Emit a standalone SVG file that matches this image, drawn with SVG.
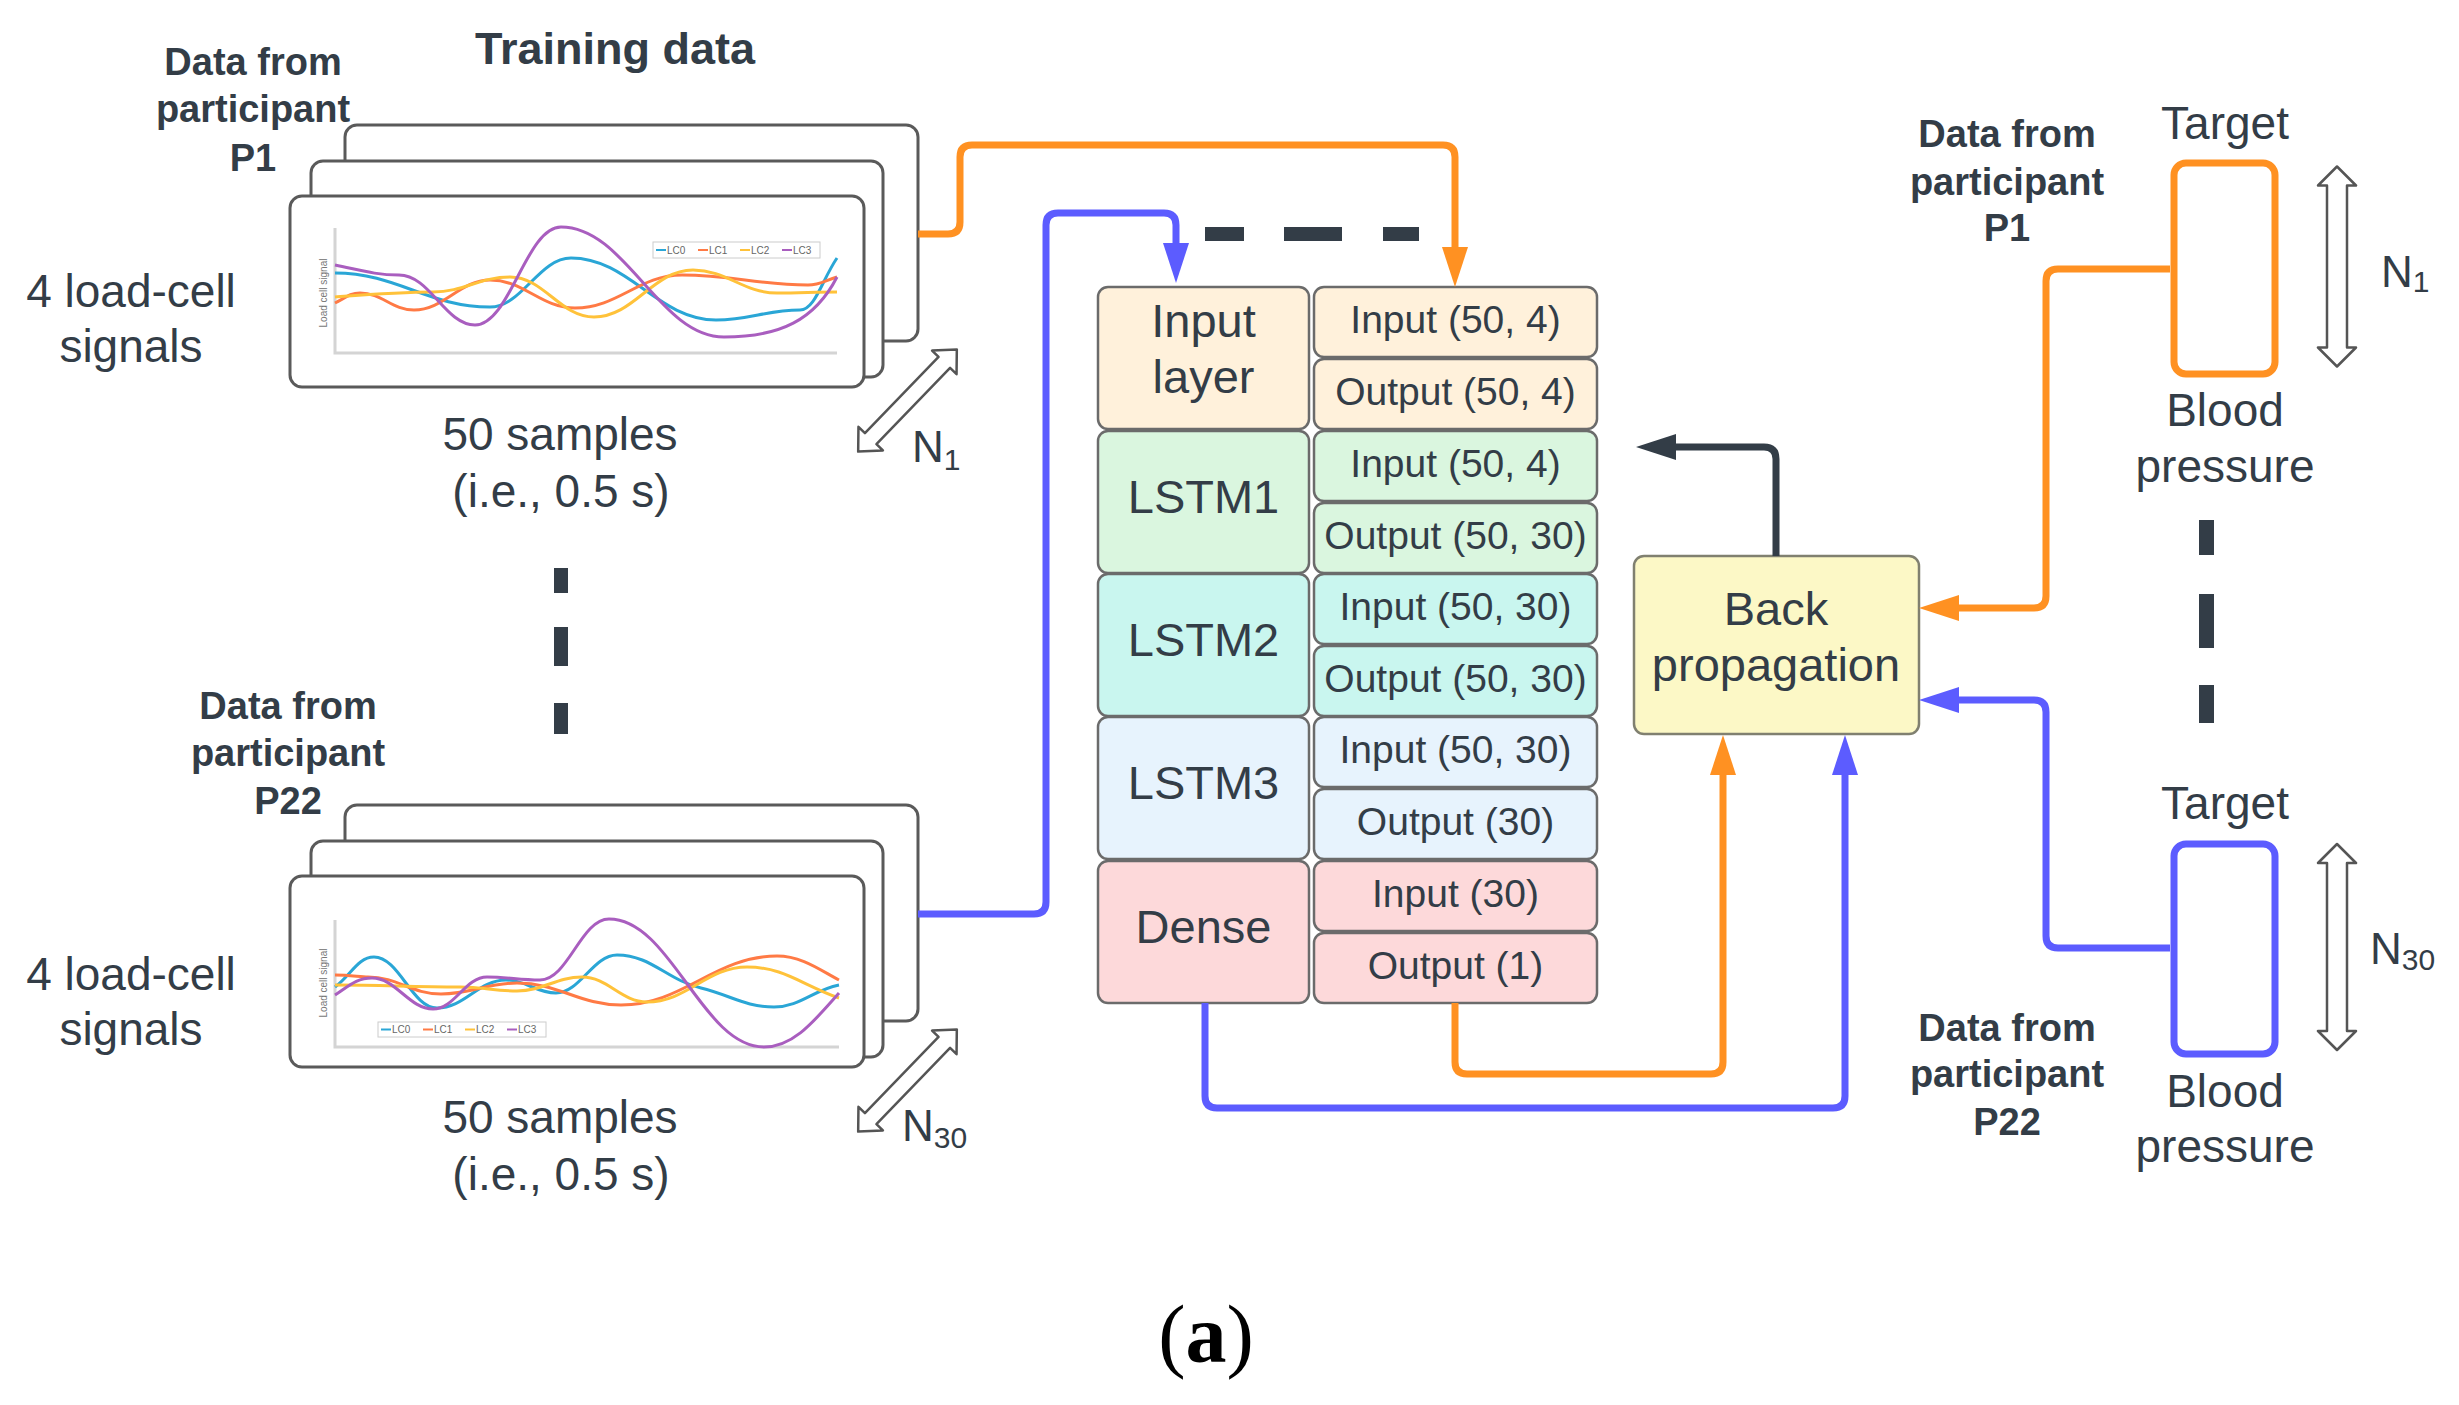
<svg xmlns="http://www.w3.org/2000/svg" width="2459" height="1405" viewBox="0 0 2459 1405">
<defs>
<style>
text{font-family:"Liberation Sans",Arial,sans-serif;fill:#333d47}
.lbl{font-size:46px;text-anchor:middle}
.bold{font-size:38px;font-weight:bold;text-anchor:middle}
.card{fill:#fff;stroke:#5a5a5a;stroke-width:3}
.axis{stroke:#d4d4d4;stroke-width:3;fill:none}
.crv{fill:none;stroke-width:3}
.lg{font-size:10px;fill:#666}
.ylab{font-size:10px;fill:#777;text-anchor:middle}
.cell{stroke:#6b6b6b;stroke-width:2.5}
.big{font-size:47px;text-anchor:middle}
.sm{font-size:39px;text-anchor:middle}
.con{fill:none;stroke-width:7}
.or{stroke:#ff9122}
.bl{stroke:#5c5cff}
.dk{stroke:#333d47}
.dash{fill:#333d47}
.dbl{fill:#fff;stroke:#555;stroke-width:2.5;stroke-linejoin:round}
.n{font-size:44px}
</style>
<marker id="ao" viewBox="0 0 40 26" refX="20" refY="13" markerWidth="40" markerHeight="26" markerUnits="userSpaceOnUse" orient="auto"><path d="M0,0 L40,13 L0,26 Z" fill="#ff9122"/></marker>
<marker id="ab" viewBox="0 0 40 26" refX="20" refY="13" markerWidth="40" markerHeight="26" markerUnits="userSpaceOnUse" orient="auto"><path d="M0,0 L40,13 L0,26 Z" fill="#5c5cff"/></marker>
<marker id="ad" viewBox="0 0 40 26" refX="20" refY="13" markerWidth="40" markerHeight="26" markerUnits="userSpaceOnUse" orient="auto"><path d="M0,0 L40,13 L0,26 Z" fill="#333d47"/></marker>
<g id="chartTopCurves">
<path class="crv" stroke="#2aa6d6" d="M335,273 C397,273 428,307 490,307 C522,307 539,258 571,258 C629,258 658,320 716,320 C750,320 766,310 800,310 C815,310 822,280 837,258"/>
<path class="crv" stroke="#ff7a45" d="M335,303 C345,298 350,293 360,293 C382,293 392,310 414,310 C444,310 460,280 490,280 C524,280 541,308 575,308 C618,308 639,275 682,275 C732,275 758,285 808,285 C820,285 826,280 837,277"/>
<path class="crv" stroke="#ffc23a" d="M335,297 C375,294 400,292 433,292 C464,292 479,277 510,277 C544,277 560,317 594,317 C634,317 653,270 693,270 C727,270 743,293 777,293 C800,293 815,292 837,292"/>
<path class="crv" stroke="#a95ebf" d="M335,265 C360,270 375,275 399,275 C430,275 445,325 475,325 C510,325 526,227 561,227 C626,227 659,337 724,337 C780,337 815,320 837,277"/>
</g>
</defs>
<rect width="2459" height="1405" fill="#fff"/>

<text x="615" y="64" font-size="45" font-weight="bold" text-anchor="middle">Training data</text>

<!-- Top-left data stack -->
<g id="stackP1">
<rect class="card" x="345" y="125" width="573" height="216" rx="12"/>
<rect class="card" x="311" y="161" width="572" height="216" rx="12"/>
<rect class="card" x="290" y="196" width="574" height="191" rx="12"/>
<path class="axis" d="M335,228 V353 H837"/>
<text class="ylab" transform="translate(327,293) rotate(-90)">Load cell signal</text>
<use href="#chartTopCurves"/>
<rect x="653" y="242" width="167" height="16" fill="#fff" stroke="#ccc" stroke-width="1"/>
<line x1="656" y1="250" x2="666" y2="250" stroke="#2aa6d6" stroke-width="2"/><text class="lg" x="667" y="254">LC0</text>
<line x1="698" y1="250" x2="708" y2="250" stroke="#ff7a45" stroke-width="2"/><text class="lg" x="709" y="254">LC1</text>
<line x1="740" y1="250" x2="750" y2="250" stroke="#ffc23a" stroke-width="2"/><text class="lg" x="751" y="254">LC2</text>
<line x1="782" y1="250" x2="792" y2="250" stroke="#a95ebf" stroke-width="2"/><text class="lg" x="793" y="254">LC3</text>
</g>
<g id="labelsP1">
<text class="bold" x="253" y="75">Data from</text>
<text class="bold" x="253" y="122">participant</text>
<text class="bold" x="253" y="171">P1</text>
<text class="lbl" x="131" y="307">4 load-cell</text>
<text class="lbl" x="131" y="362">signals</text>
<text class="lbl" x="560" y="450">50 samples</text>
<text class="lbl" x="561" y="507">(i.e., 0.5 s)</text>
<polygon class="dbl" transform="translate(907.5,400.5) rotate(44)" points="0,-71 17,-53 8,-53 8,53 17,53 0,71 -17,53 -8,53 -8,-53 -17,-53"/>
<text class="n" x="912" y="462">N<tspan font-size="30" dy="8">1</tspan></text>
</g>

<!-- left vertical dashes -->
<g id="dashLeft">
<rect class="dash" x="554" y="568" width="14" height="25"/>
<rect class="dash" x="554" y="627" width="14" height="39"/>
<rect class="dash" x="554" y="703" width="14" height="31"/>
</g>

<!-- Bottom-left data stack -->
<g id="stackP22">
<rect class="card" x="345" y="805" width="573" height="216" rx="12"/>
<rect class="card" x="311" y="841" width="572" height="216" rx="12"/>
<rect class="card" x="290" y="876" width="574" height="191" rx="12"/>
<path class="axis" d="M335,920 V1047 H839"/>
<text class="ylab" transform="translate(327,983) rotate(-90)">Load cell signal</text>
<path class="crv" stroke="#2aa6d6" d="M335,987 C351,975 358,957 374,957 C399,957 412,1008 437,1008 C465,1008 478,980 506,980 C526,980 536,993 556,993 C580,993 593,955 617,955 C651,955 667,980 701,988 C730,995 745,1007 774,1007 C800,1007 813,990 839,985"/>
<path class="crv" stroke="#ff7a45" d="M335,975 C350,975 360,977 368,977 C398,977 411,994 441,994 C471,994 487,983 517,983 C559,983 579,1005 621,1005 C683,1005 715,956 777,956 C802,956 820,970 839,980"/>
<path class="crv" stroke="#ffc23a" d="M335,985 C385,985 410,987 460,987 C483,987 494,991 517,991 C543,991 556,977 582,977 C608,977 621,1002 647,1002 C687,1002 707,967 747,967 C784,967 802,985 839,998"/>
<path class="crv" stroke="#a95ebf" d="M335,995 C350,985 357,978 372,978 C396,978 409,1009 433,1009 C455,1009 465,977 487,977 C508,977 519,980 540,980 C568,980 581,919 609,919 C671,919 702,1047 764,1047 C794,1047 815,1020 839,993"/>
<rect x="378" y="1022" width="168" height="15" fill="#fff" stroke="#ccc" stroke-width="1"/>
<line x1="381" y1="1029.5" x2="391" y2="1029.5" stroke="#2aa6d6" stroke-width="2"/><text class="lg" x="392" y="1033">LC0</text>
<line x1="423" y1="1029.5" x2="433" y2="1029.5" stroke="#ff7a45" stroke-width="2"/><text class="lg" x="434" y="1033">LC1</text>
<line x1="465" y1="1029.5" x2="475" y2="1029.5" stroke="#ffc23a" stroke-width="2"/><text class="lg" x="476" y="1033">LC2</text>
<line x1="507" y1="1029.5" x2="517" y2="1029.5" stroke="#a95ebf" stroke-width="2"/><text class="lg" x="518" y="1033">LC3</text>
</g>
<g id="labelsP22">
<text class="bold" x="288" y="719">Data from</text>
<text class="bold" x="288" y="766">participant</text>
<text class="bold" x="288" y="814">P22</text>
<text class="lbl" x="131" y="990">4 load-cell</text>
<text class="lbl" x="131" y="1045">signals</text>
<text class="lbl" x="560" y="1133">50 samples</text>
<text class="lbl" x="561" y="1190">(i.e., 0.5 s)</text>
<polygon class="dbl" transform="translate(907.5,1080.5) rotate(44)" points="0,-71 17,-53 8,-53 8,53 17,53 0,71 -17,53 -8,53 -8,-53 -17,-53"/>
<text class="n" x="902" y="1141">N<tspan font-size="30" dy="7">30</tspan></text>
</g>

<!-- top dashes -->
<g id="dashTop">
<rect class="dash" x="1205" y="227" width="39" height="14"/>
<rect class="dash" x="1284" y="227" width="58" height="14"/>
<rect class="dash" x="1383" y="227" width="36" height="14"/>
</g>

<!-- Network layers -->
<g id="inputLayer">
<rect class="cell" x="1098" y="287" width="211" height="142" rx="10" fill="#fff1db"/>
<rect class="cell" x="1314" y="287" width="283" height="70" rx="10" fill="#fff1db"/>
<rect class="cell" x="1314" y="359" width="283" height="70" rx="10" fill="#fff1db"/>
<text class="big" x="1203.5" y="337">Input</text>
<text class="big" x="1203.5" y="393">layer</text>
<text class="sm" x="1455.5" y="333">Input (50, 4)</text>
<text class="sm" x="1455.5" y="405">Output (50, 4)</text>
</g>
<g id="lstm1">
<rect class="cell" x="1098" y="431" width="211" height="142" rx="10" fill="#daf6df"/>
<rect class="cell" x="1314" y="431" width="283" height="70" rx="10" fill="#daf6df"/>
<rect class="cell" x="1314" y="503" width="283" height="70" rx="10" fill="#daf6df"/>
<text class="big" x="1203.5" y="513">LSTM1</text>
<text class="sm" x="1455.5" y="477">Input (50, 4)</text>
<text class="sm" x="1455.5" y="549">Output (50, 30)</text>
</g>
<g id="lstm2">
<rect class="cell" x="1098" y="574" width="211" height="142" rx="10" fill="#c9f6ef"/>
<rect class="cell" x="1314" y="574" width="283" height="70" rx="10" fill="#c9f6ef"/>
<rect class="cell" x="1314" y="646" width="283" height="70" rx="10" fill="#c9f6ef"/>
<text class="big" x="1203.5" y="656">LSTM2</text>
<text class="sm" x="1455.5" y="620">Input (50, 30)</text>
<text class="sm" x="1455.5" y="692">Output (50, 30)</text>
</g>
<g id="lstm3">
<rect class="cell" x="1098" y="717" width="211" height="142" rx="10" fill="#e7f3fd"/>
<rect class="cell" x="1314" y="717" width="283" height="70" rx="10" fill="#e7f3fd"/>
<rect class="cell" x="1314" y="789" width="283" height="70" rx="10" fill="#e7f3fd"/>
<text class="big" x="1203.5" y="799">LSTM3</text>
<text class="sm" x="1455.5" y="763">Input (50, 30)</text>
<text class="sm" x="1455.5" y="835">Output (30)</text>
</g>
<g id="dense">
<rect class="cell" x="1098" y="861" width="211" height="142" rx="10" fill="#fdd9da"/>
<rect class="cell" x="1314" y="861" width="283" height="70" rx="10" fill="#fdd9da"/>
<rect class="cell" x="1314" y="933" width="283" height="70" rx="10" fill="#fdd9da"/>
<text class="big" x="1203.5" y="943">Dense</text>
<text class="sm" x="1455.5" y="907">Input (30)</text>
<text class="sm" x="1455.5" y="979">Output (1)</text>
</g>

<g id="backprop">
<rect x="1634" y="556" width="285" height="178" rx="10" fill="#fcf8c6" stroke="#808070" stroke-width="2.5"/>
<text class="big" x="1776" y="625">Back</text>
<text class="big" x="1776" y="681">propagation</text>
</g>

<!-- right targets -->
<g id="targetP1">
<text class="bold" x="2007" y="147">Data from</text>
<text class="bold" x="2007" y="195">participant</text>
<text class="bold" x="2007" y="241">P1</text>
<text class="lbl" x="2225" y="139">Target</text>
<rect x="2174" y="163" width="101" height="211" rx="12" fill="#fff" stroke="#ff9122" stroke-width="7"/>
<text class="lbl" x="2225" y="426">Blood</text>
<text class="lbl" x="2225" y="482">pressure</text>
<polygon class="dbl" transform="translate(2337,266.5)" points="0,-100 19,-81 10,-81 10,81 19,81 0,100 -19,81 -10,81 -10,-81 -19,-81"/>
<text class="n" x="2381" y="287">N<tspan font-size="30" dy="5">1</tspan></text>
</g>
<g id="dashRight">
<rect class="dash" x="2199" y="520" width="15" height="35"/>
<rect class="dash" x="2199" y="594" width="15" height="54"/>
<rect class="dash" x="2199" y="685" width="15" height="38"/>
</g>
<g id="targetP22">
<text class="lbl" x="2225" y="819">Target</text>
<rect x="2174" y="844" width="101" height="210" rx="12" fill="#fff" stroke="#5c5cff" stroke-width="7"/>
<text class="lbl" x="2225" y="1107">Blood</text>
<text class="lbl" x="2225" y="1162">pressure</text>
<text class="bold" x="2007" y="1041">Data from</text>
<text class="bold" x="2007" y="1087">participant</text>
<text class="bold" x="2007" y="1135">P22</text>
<polygon class="dbl" transform="translate(2337,947)" points="0,-103 19,-84 10,-84 10,84 19,84 0,103 -19,84 -10,84 -10,-84 -19,-84"/>
<text class="n" x="2370" y="964">N<tspan font-size="30" dy="6">30</tspan></text>
</g>

<!-- connectors -->
<g id="connectors">
<path class="con or" marker-end="url(#ao)" d="M918,234 H948 Q960,234 960,222 V157 Q960,145 972,145 H1443 Q1455,145 1455,157 V267"/>
<path class="con bl" marker-end="url(#ab)" d="M918,914 H1034 Q1046,914 1046,902 V225 Q1046,213 1058,213 H1164 Q1176,213 1176,225 V263"/>
<path class="con or" marker-end="url(#ao)" d="M1455,1003 V1062 Q1455,1074 1467,1074 H1711 Q1723,1074 1723,1062 V755"/>
<path class="con bl" marker-end="url(#ab)" d="M1205,1003 V1096 Q1205,1108 1217,1108 H1833 Q1845,1108 1845,1096 V755"/>
<path class="con or" marker-end="url(#ao)" d="M2170,269 H2058 Q2046,269 2046,281 V596 Q2046,608 2034,608 H1939"/>
<path class="con bl" marker-end="url(#ab)" d="M2170,948 H2058 Q2046,948 2046,936 V712 Q2046,700 2034,700 H1939"/>
<path class="con dk" marker-end="url(#ad)" d="M1776,556 V459 Q1776,447 1764,447 H1656"/>
</g>

<text x="1206" y="1362" font-size="82" text-anchor="middle" style="font-family:'Liberation Serif','Times New Roman',serif;fill:#000">(<tspan font-weight="bold">a</tspan>)</text>
</svg>
